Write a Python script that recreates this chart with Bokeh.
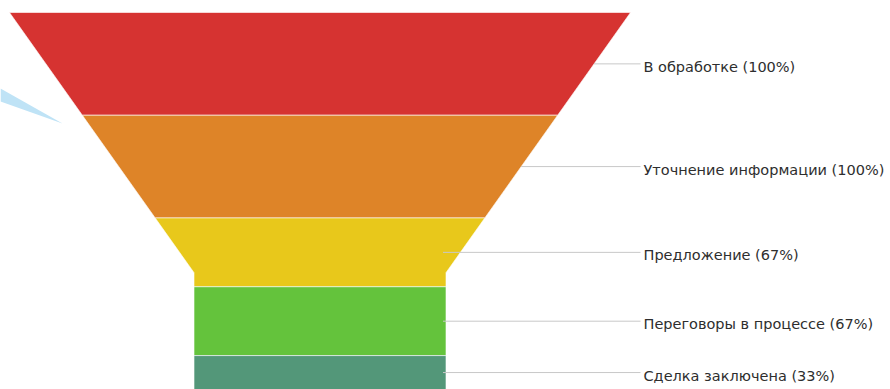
from bokeh.plotting import figure
from bokeh.models import Range1d, ColumnDataSource
from bokeh.core.properties import value
from bokeh.embed import file_html
from bokeh.resources import INLINE

# Sales pipeline stages and their share of deals (%)
stages = ["В обработке", "Уточнение информации", "Предложение",
          "Переговоры в процессе", "Сделка заключена"]
percents = [100, 100, 67, 67, 33]
colors = ["#D63331", "#DE8428", "#E8C81B", "#64C33C", "#539779"]

# Funnel shape (x in screen-like units, y in cumulative percent)
center_x = 319.5
top_width = 621.0
neck_width = 252.0
neck_frac = 0.69   # share of total height above the neck

total = sum(percents)
neck_y = total * neck_frac


def half_width(y):
    if y >= neck_y:
        return neck_width / 2
    t = y / neck_y
    return top_width / 2 + (neck_width / 2 - top_width / 2) * t


px_per_unit = 377.0 / total
p = figure(width=890, height=389, output_backend="svg", toolbar_location=None,
           x_range=Range1d(0, 890),
           y_range=Range1d(total, -12.0 / px_per_unit),
           min_border=0, outline_line_color=None)
p.axis.visible = False
p.grid.visible = False
p.background_fill_color = "white"
p.border_fill_color = "white"

# pointer-shaped light blue wedge at the left edge
p.patch(x=[0, 62, 0], y=[(88 - 12) / px_per_unit,
                          (123 - 12) / px_per_unit,
                          (101 - 12) / px_per_unit],
        fill_color="#BFE3F6", line_color=None)

xs, ys = [], []
line_x0, line_x1, line_y, labels = [], [], [], []
y0 = 0.0
for name, pct in zip(stages, percents):
    y1 = y0 + pct
    pts_y = [y0]
    if y0 < neck_y < y1:
        pts_y.append(neck_y)
    pts_y.append(y1)
    left = [center_x - half_width(y) for y in pts_y]
    right = [center_x + half_width(y) for y in reversed(pts_y)]
    xs.append(left + right)
    ys.append(pts_y + list(reversed(pts_y)))

    mid = (y0 + y1) / 2
    if y1 <= neck_y:
        start = center_x + half_width(mid)
    else:
        start = center_x + neck_width / 2 - 3
    line_x0.append(start)
    line_x1.append(640)
    line_y.append(mid)
    labels.append(f"{name} ({pct}%)")
    y0 = y1

p.patches(xs=xs, ys=ys, fill_color=colors, line_color="white",
          line_width=1, line_alpha=0.6)

p.segment(x0=line_x0, y0=line_y, x1=line_x1, y1=line_y,
          line_color="#C8C8C8", line_width=1)

src = ColumnDataSource(dict(x=[643] * len(labels), y=line_y, t=labels))
p.text(x="x", y="y", text="t", source=src, text_font=value("DejaVu Sans"),
       text_font_size="14.5px", text_color="#2E2E2E",
       text_baseline="middle", text_align="left", y_offset=3)

open("out.html", "w").write(file_html(p, INLINE))
